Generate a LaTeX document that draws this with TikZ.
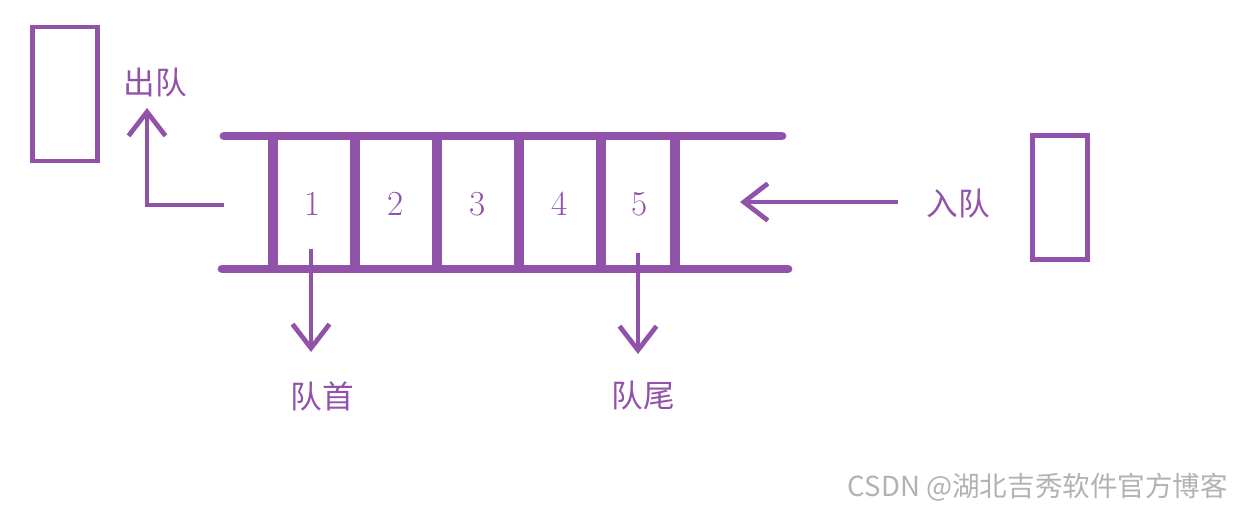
\documentclass[tikz,border=0pt]{standalone}
\usepackage{fontspec}
\newfontfamily\cjk{Noto Sans CJK SC}
\usetikzlibrary{arrows.meta,positioning}
\definecolor{queuePurple}{RGB}{145,82,170}
\definecolor{markGray}{RGB}{178,178,178}

\begin{document}
\begin{tikzpicture}[
    x=0.02cm, y=-0.02cm,
    holder/.style={rectangle, draw=queuePurple, line width=2.8pt, inner sep=0pt},
    cell/.style={text=queuePurple, font=\fontsize{20}{22}\selectfont},
    label/.style={text=queuePurple, font=\cjk\fontsize{18}{20}\selectfont, inner sep=0pt},
    rail/.style={draw=queuePurple, line width=5pt, line cap=round},
    divider/.style={draw=queuePurple, line width=5.4pt},
    arrow/.style={-{Straight Barb[length=0.48cm, width=0.74cm]}, draw=queuePurple, line width=2.7pt}
]
\useasboundingbox (0,0) rectangle (1242,508);
% the two spare elements
\node[holder, minimum width=1.3cm, minimum height=2.68cm] (outBox) at (65,94) {};
\node[holder, minimum width=1.1cm, minimum height=2.48cm] (inBox) at (1060,197.5) {};
% the queue body
\draw[rail] (224,136) -- (782,136);
\draw[rail] (222,269) -- (788,269);
\foreach \x in {273,355,437,519,601,675}
    \draw[divider] (\x,136) -- (\x,269);
\node[cell] (c1) at (313,204) {1};
\node[cell] (c2) at (396,204) {2};
\node[cell] (c3) at (478,204) {3};
\node[cell] (c4) at (560,204) {4};
\node[cell] (c5) at (640,204) {5};
% labels
\node[label] (deqLabel) at (155,83) {出队};
\node[label] (enqLabel) at (958,204) {入队};
\node[label] (headLabel) at (322,396) {队首};
\node[label] (tailLabel) at (643,396) {队尾};
% arrows
\coordinate (deqStart) at (224,205);
\coordinate (deqTip) at (147,108);
\coordinate (enqStart) at (898,202);
\coordinate (enqTip) at (740,202);
\coordinate (headStart) at (311,249);
\coordinate (headTip) at (311,352);
\coordinate (tailStart) at (638,253);
\coordinate (tailTip) at (638,354);
\draw[arrow] (deqStart) -| (deqTip);
\draw[arrow] (enqStart) -- (enqTip);
\draw[arrow] (headStart) -- (headTip);
\draw[arrow] (tailStart) -- (tailTip);
\node[text=markGray, font=\cjk\fontsize{15.7}{18}\selectfont] (mark) at (1038,487) {CSDN @湖北吉秀软件官方博客};
\end{tikzpicture}
\end{document}
